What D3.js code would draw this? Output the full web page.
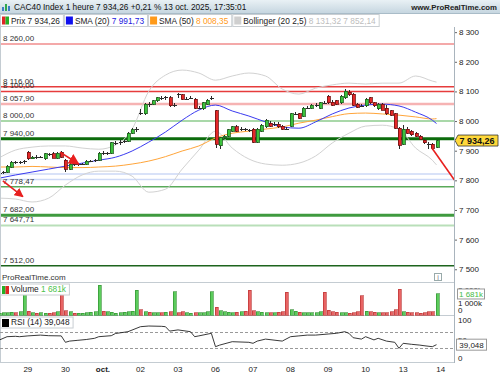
<!DOCTYPE html>
<html>
<head>
<meta charset="utf-8" />
<title>CAC40 1 heure</title>
<script src="https://cdn.jsdelivr.net/npm/d3@7"></script>
<style>
  body { margin: 0; background: #fff; }
  svg { display: block; font-family: "Liberation Sans", Arial, sans-serif; }
</style>
</head>
<body>
<svg id="chart" width="500" height="375"></svg>
<script>
// ---- data ----
const dayLabels = ['29', '30', 'oct.', '02', '03', '06', '07', '08', '09', '10', '13', '14'];
const dayStart = [7, 16, 25, 34, 43, 52, 61, 70, 79, 88, 97, 106];

const opens = [7821,7824,7828,7845,7861,7858,7861,7895,7872,7878,7875,7872,7889,7889,7875,7895,
  7868,7838,7855,7851,7855,7855,7865,7866,7868,7892,7889,7892,7926,7927,7929,7932,7959,7970,
  8027,8024,8057,8057,8068,8078,8077,8078,8054,8091,8088,8074,8076,8074,8044,8041,8057,8074,
  8034,7916,7943,7949,7966,7980,7970,7972,7969,7973,7929,7966,7980,7993,7986,7990,7983,7974,
  7983,8024,8024,8017,8044,8044,8051,8044,8062,8084,8064,8068,8061,8078,8098,8091,8057,8051,
  8051,8078,8061,8041,8057,8044,8034,8024,7976,7922,7973,7966,7959,7949,7936,7922,7922,7912];
const highs = [7828,7831,7851,7865,7865,7865,7868,7899,7882,7885,7882,7892,7892,7895,7895,7899,
  7872,7858,7858,7858,7858,7868,7868,7872,7895,7899,7895,7929,7932,7936,7936,7963,7976,7980,
  8041,8061,8064,8071,8081,8084,8084,8084,8061,8094,8091,8081,8084,8078,8051,8064,8074,8084,
  8037,7946,7953,7973,7983,7986,7980,7976,7973,7976,7976,7990,8007,8000,7997,7997,7986,7980,
  8027,8030,8027,8047,8051,8057,8061,8064,8068,8088,8071,8071,8088,8108,8104,8094,8061,8057,
  8078,8081,8064,8061,8061,8054,8037,8027,7980,7986,7980,7970,7963,7953,7939,7929,7926,7936];
const lows = [7818,7821,7824,7841,7855,7855,7855,7868,7872,7872,7875,7868,7882,7875,7872,7875,
  7828,7834,7848,7848,7851,7851,7861,7861,7865,7885,7885,7889,7919,7919,7926,7929,7956,7963,
  8020,8020,8047,8054,8064,8071,8071,8047,8047,8078,8071,8071,8074,8041,8041,8037,8054,8071,
  7909,7905,7939,7946,7963,7963,7966,7966,7963,7926,7926,7963,7976,7980,7983,7976,7970,7970,
  7980,8020,8007,8014,8041,8041,8047,8041,8057,8057,8051,8054,8057,8074,8084,8051,8044,8047,
  8047,8057,8047,8037,8037,8020,8017,7973,7905,7919,7956,7949,7946,7936,7922,7905,7902,7909];
const closes = [7824,7828,7848,7861,7858,7861,7865,7872,7878,7875,7878,7889,7885,7875,7892,7878,
  7838,7855,7851,7855,7856,7865,7866,7868,7892,7889,7892,7926,7927,7929,7932,7959,7970,7973,
  8026,8057,8054,8068,8078,8077,8080,8051,8055,8090,8074,8076,8078,8044,8045,8061,8071,8077,
  7922,7943,7949,7970,7980,7966,7972,7969,7967,7929,7973,7986,8003,7983,7990,7980,7973,7972,
  8024,8025,8010,8044,8045,8054,8055,8061,8060,8061,8054,8057,8084,8101,8088,8054,8047,8050,
  8074,8061,8051,8057,8037,8024,8020,7976,7918,7973,7959,7953,7949,7939,7926,7919,7909,7934.26];
// volume in thousands
const volumes = [150,180,200,220,190,260,1740,
  300,180,150,170,160,140,180,250,1740,
  330,250,150,150,160,200,240,280,2400,
  320,250,220,150,170,220,250,300,2000,
  420,260,220,180,170,200,230,280,1870,
  200,250,180,150,200,170,190,260,1870,
  620,350,260,230,200,240,260,320,2000,
  330,250,220,190,170,180,220,280,1810,
  420,300,220,200,170,170,200,250,1810,
  400,280,220,180,170,160,200,280,1550,
  320,260,230,190,170,180,250,420,2080,
  280,220,180,170,160,190,260,280,1681];

// indicators, sampled every 4 bars
const indIdx = [0,4,8,12,16,20,24,28,32,36,40,44,48,52,56,60,64,68,72,76,80,84,88,92,96,100,104,105];
const sma20 = [7807,7818,7828,7838,7848,7858,7868,7878,7899,7929,7963,8003,8037,8054,8034,8017,
  7997,7980,7976,7997,8024,8044,8054,8057,8051,8030,8003,7991.73];
const sma50 = [7845,7845,7847,7845,7843,7843,7845,7848,7855,7865,7880,7899,7916,7943,7959,7966,
  7973,7980,7993,8003,8015,8025,8027,8024,8020,8014,8007,8008.35];
const bollUp = [7875,7902,7912,7916,7916,7909,7905,7919,7973,8101,8155,8172,8162,8138,8152,8162,
  8152,8108,8091,8111,8122,8128,8125,8128,8128,8152,8135,8131.32];
const bollLo = [7740,7737,7727,7740,7784,7818,7831,7831,7814,7760,7770,7838,7902,7966,7909,7872,
  7855,7851,7858,7882,7926,7959,7983,7986,7973,7909,7868,7852.14];

const rsiIdx = [0,2,4,5,7,10,12,15,16,17,19,21,23,24,27,28,31,34,36,39,40,41,43,46,47,48,51,52,53,
  56,60,61,62,64,68,70,72,74,76,79,81,83,84,85,87,88,90,91,93,95,96,97,99,101,102,104,105];
const rsiVal = [50,59,60,59,61,63,61.5,61,45,48,50,52,55,59,61.5,67,71.5,84,85.7,85,84,73,76,71.5,
  59,61,67.5,34,38,46.5,45,42.5,48,53,48,59,61,63,63,65.7,67.5,71.5,67.5,56.5,53,59,51,55,48,45,
  30,42.5,40,38,36.5,34,39.048];

const levelVals = [8260, 8116, 8100, 8057.9, 8000, 7940, 7821, 7803, 7778.47, 7682, 7647.71, 7512];
const levelShowLabel = [true, true, true, true, true, true, false, false, true, true, true, true];
const levelColors = ['#f4a9a9','#e63c3c','#e63c3c','#f6b3b3','#a9d8a9','#0b6b0b','#cdd9f6','#cdd9f6',
  '#5aaa5a','#3f9a3f','#b9dfb9','#1d641d'];
const levelWidths = [2, 1.5, 1.5, 2.5, 2, 3, 1.5, 1.5, 1.5, 3, 2, 1.5];

const priceTicks = [7500, 7600, 7700, 7800, 7900, 8000, 8100, 8200, 8300];
const lastPrice = 7934.26, change = 0.21, lastVol = 1681, lastRsi = 39.048;

// red hand-drawn arrows, in (bar index, price)
const arrows = [
  {i0: 14.7, v0: 7895, i1: 19.2, v1: 7855, head: 8},
  {i0: 1.0, v0: 7798, i1: 5.8, v1: 7745, head: 6},
  {i0: 103.9, v0: 7909, i1: 109.3, v1: 7801, head: 0}
];

// ---- chart ----
const svg = d3.select('#chart');
const fr = d3.formatLocale({decimal: ',', thousands: ' ', grouping: [3], currency: ['', '']});
const f0 = fr.format(',.0f'), f2 = fr.format(',.2f'), f3 = fr.format('.3f');

const axisX = 454;
const x = d3.scaleLinear().domain([0, 105]).range([-1.3, 436.5]);
const yP = d3.scaleLinear().domain([7512, 8260]).range([265.7, 44]);
const yV = d3.scaleLinear().domain([0, 1000]).range([315, 302.5]);
const yR = d3.scaleLinear().domain([0, 100]).range([360.3, 320.3]);

const defs = svg.append('defs');
const grad = defs.append('linearGradient').attr('id', 'tb').attr('x1', 0).attr('y1', 0).attr('x2', 0).attr('y2', 1);
grad.append('stop').attr('offset', 0).attr('stop-color', '#e9f1f5');
grad.append('stop').attr('offset', 1).attr('stop-color', '#c6d6e0');
defs.append('clipPath').attr('id', 'main').append('rect').attr('x', 0).attr('y', 28).attr('width', axisX).attr('height', 254);
defs.append('clipPath').attr('id', 'lower').append('rect').attr('x', 0).attr('y', 283).attr('width', axisX).attr('height', 80);
[8, 6].forEach(s => {
  defs.append('marker').attr('id', 'ah' + s).attr('viewBox', '0 0 10 10').attr('refX', 9).attr('refY', 5)
    .attr('markerUnits', 'userSpaceOnUse').attr('markerWidth', s + 3).attr('markerHeight', s + 3).attr('orient', 'auto')
    .append('path').attr('d', 'M0,0 L10,5 L0,10 z').attr('fill', '#e8201f');
});

// title bar
svg.append('rect').attr('width', 500).attr('height', 13).attr('fill', 'url(#tb)');
svg.append('line').attr('x1', 0).attr('x2', 500).attr('y1', 13.5).attr('y2', 13.5).attr('stroke', '#a9bcc8');
[[2, 6, 4, '#3d7fc4'], [5, 3, 7, '#2fa84f'], [8, 5, 5, '#3d7fc4']].forEach(b => {
  svg.append('rect').attr('x', b[0]).attr('y', b[1] + 1).attr('width', 2).attr('height', b[2]).attr('fill', b[3]);
});
svg.append('text').attr('x', 14).attr('y', 10).attr('font-size', 8.3).attr('fill', '#111')
  .text('CAC40 Index 1 heure ' + f2(lastPrice) + ' +' + fr.format('.2f')(change) + ' % 13 oct. 2025, 17:35:01');
svg.append('text').attr('x', 497).attr('y', 10).attr('font-size', 7.8).attr('font-weight', 'bold')
  .attr('text-anchor', 'end').attr('fill', '#222').text('www.ProRealTime.com');

// legend boxes
function legendBox(g, x0, y0, h, icon, parts) {
  const box = g.append('g');
  const rect = box.append('rect').attr('x', x0 + 0.5).attr('y', y0 + 0.5).attr('height', h).attr('fill', '#fff').attr('stroke', '#c9ced2');
  icon(box, x0 + 2, y0 + 2.5);
  const t = box.append('text').attr('x', x0 + 11).attr('y', y0 + h - 2.5).attr('font-size', 8.3);
  parts.forEach(p => t.append('tspan').attr('fill', p[1]).text(p[0]));
  const w = t.node().getComputedTextLength() + 14;
  rect.attr('width', w);
  return x0 + w + 1;
}
const sq = c => (b, x0, y0) => b.append('rect').attr('x', x0).attr('y', y0).attr('width', 7).attr('height', 8).attr('fill', c);
const split = (c1, c2) => (b, x0, y0) => {
  b.append('rect').attr('x', x0).attr('y', y0).attr('width', 3.5).attr('height', 8).attr('fill', c1);
  b.append('rect').attr('x', x0 + 3.5).attr('y', y0).attr('width', 3.5).attr('height', 8).attr('fill', c2);
};
let lx = 0;
lx = legendBox(svg, lx, 14, 12, split('#e02626', '#26b026'), [['Prix ' + f2(lastPrice), '#222']]);
lx = legendBox(svg, lx, 14, 12, sq('#1010ee'), [['SMA (20) ', '#222'], [f2(sma20[sma20.length - 1]), '#2020e0']]);
lx = legendBox(svg, lx, 14, 12, sq('#ff9a1a'), [['SMA (50) ', '#222'], [f2(sma50[sma50.length - 1]), '#ff9a1a']]);
lx = legendBox(svg, lx, 14, 12, sq('#cfcfcf'), [['Bollinger (20 2,5) ', '#222'],
  [f2(bollUp[bollUp.length - 1]) + ' ' + f2(bollLo[bollLo.length - 1]), '#bdbdbd']]);

// main panel
const main = svg.append('g').attr('clip-path', 'url(#main)');
svg.append('line').attr('x1', 0.5).attr('x2', 0.5).attr('y1', 27).attr('y2', 363).attr('stroke', '#c4ccd2');

levelVals.forEach((v, k) => {
  main.append('line').attr('x1', 0).attr('x2', axisX).attr('y1', yP(v)).attr('y2', yP(v))
    .attr('stroke', levelColors[k]).attr('stroke-width', levelWidths[k]);
});
levelVals.forEach((v, k) => {
  if (!levelShowLabel[k]) return;
  main.append('text').attr('x', 3).attr('y', yP(v) - 3).attr('font-size', 8).attr('fill', '#333').text(f2(v));
});

const ind = (arr, sc) => d3.line().x((d, k) => x(indIdx[k])).y(d => sc(d)).curve(d3.curveMonotoneX)(arr);
main.append('path').attr('d', ind(bollUp, yP)).attr('fill', 'none').attr('stroke', '#d2d2d2');
main.append('path').attr('d', ind(bollLo, yP)).attr('fill', 'none').attr('stroke', '#d2d2d2');
main.append('path').attr('d', ind(sma50, yP)).attr('fill', 'none').attr('stroke', '#ffa53a');
main.append('path').attr('d', ind(sma20, yP)).attr('fill', 'none').attr('stroke', '#3b3bf0');

// candles
const idx = d3.range(opens.length);
const cg = main.append('g').attr('shape-rendering', 'crispEdges');
idx.forEach(i => {
  const cx = Math.round(x(i)) + 0.5;
  const up = closes[i] >= opens[i];
  cg.append('line').attr('x1', cx).attr('x2', cx).attr('y1', yP(highs[i])).attr('y2', yP(lows[i])).attr('stroke', '#2a2a2a');
  const top = yP(Math.max(opens[i], closes[i])), bot = yP(Math.min(opens[i], closes[i]));
  if (bot - top < 1.5) {
    cg.append('line').attr('x1', cx - 2).attr('x2', cx + 2).attr('y1', Math.round(top) + 0.5).attr('y2', Math.round(top) + 0.5)
      .attr('stroke', '#2a2a2a');
  } else {
    cg.append('rect').attr('x', cx - 1.5).attr('y', top).attr('width', 3).attr('height', bot - top)
      .attr('fill', up ? '#3cc23c' : '#e42828').attr('stroke', up ? '#1d5e1d' : '#6e1010').attr('stroke-width', 0.8);
  }
});

// red arrows
arrows.forEach(a => {
  const l = main.append('line').attr('x1', x(a.i0)).attr('y1', yP(a.v0)).attr('x2', x(a.i1)).attr('y2', yP(a.v1))
    .attr('stroke', '#e8201f').attr('stroke-width', 1.6);
  if (a.head) l.attr('marker-end', 'url(#ah' + a.head + ')');
});

svg.append('text').attr('x', 2).attr('y', 280).attr('font-size', 8).attr('fill', '#333').text('ProRealTime.com');
svg.append('rect').attr('x', 434.5).attr('y', 273.5).attr('width', 7).attr('height', 7).attr('fill', '#fff').attr('stroke', '#9aa');
svg.append('text').attr('x', 438).attr('y', 280).attr('font-size', 7).attr('text-anchor', 'middle').attr('fill', '#778').text('i');

// price axis
const pAxis = svg.append('g').attr('transform', `translate(${axisX},0)`)
  .call(d3.axisRight(yP).tickValues(priceTicks).tickSize(3).tickPadding(2).tickFormat(f0));
pAxis.select('.domain').remove();
pAxis.selectAll('line').attr('stroke', '#666');
pAxis.selectAll('text').attr('font-size', 8).attr('fill', '#222').attr('font-family', null);

// last price tag
const ly = yP(lastPrice);
svg.append('path').attr('d', `M${axisX + 1},${ly} L${axisX + 4},${ly - 5.5} H498 V${ly + 5.5} H${axisX + 4} Z`)
  .attr('fill', '#ffd83a').attr('stroke', '#333').attr('stroke-width', 0.8);
svg.append('text').attr('x', 477).attr('y', ly + 3.3).attr('font-size', 9).attr('font-weight', 'bold')
  .attr('text-anchor', 'middle').attr('fill', '#111').text(f2(lastPrice));

// separators
[282.5, 315.5, 362.5].forEach(yy => svg.append('line').attr('x1', 0).attr('x2', axisX).attr('y1', yy).attr('y2', yy).attr('stroke', '#c4ccd2'));
svg.append('line').attr('x1', axisX + 0.5).attr('x2', axisX + 0.5).attr('y1', 27).attr('y2', 363).attr('stroke', '#a9b4bd');

// volume
const lower = svg.append('g').attr('clip-path', 'url(#lower)').attr('shape-rendering', 'crispEdges');
idx.forEach(i => {
  const up = closes[i] >= opens[i];
  lower.append('rect').attr('x', Math.round(x(i)) - 1).attr('y', yV(volumes[i])).attr('width', 3)
    .attr('height', yV(0) - yV(volumes[i]))
    .attr('fill', up ? '#5ccc5c' : '#e86464').attr('stroke', up ? '#2a8a2a' : '#b52a2a').attr('stroke-width', 0.6);
});
legendBox(svg, 0, 283.5, 11, split('#26b026', '#e02626'), [['Volume ', '#222'], [f0(lastVol) + 'k', '#4cc24c']]);
const vAxis = svg.append('g').attr('transform', `translate(${axisX},0)`)
  .call(d3.axisRight(yV).tickValues([1000, 2000]).tickSize(0).tickPadding(4).tickFormat(d => f0(d) + 'k'));
vAxis.select('.domain').remove();
vAxis.selectAll('text').attr('font-size', 8).attr('fill', '#222').attr('font-family', null);
svg.append('text').attr('x', 458).attr('y', yV(0) - 2.5).attr('font-size', 8).attr('fill', '#222').text('0');
svg.append('rect').attr('x', 457.5).attr('y', yV(lastVol) - 5).attr('width', 27).attr('height', 10)
  .attr('fill', '#fff').attr('stroke', '#999');
svg.append('text').attr('x', 471).attr('y', yV(lastVol) + 3).attr('font-size', 8).attr('text-anchor', 'middle')
  .attr('fill', '#44bb44').text(f0(lastVol) + 'k');

// RSI
[70, 30].forEach(v => lower.append('line').attr('x1', 0).attr('x2', axisX).attr('y1', Math.round(yR(v)) + 0.5).attr('y2', Math.round(yR(v)) + 0.5)
  .attr('stroke', '#999').attr('stroke-dasharray', '3,2'));
svg.append('g').attr('clip-path', 'url(#lower)').append('path')
  .attr('d', d3.line().x((d, k) => x(rsiIdx[k])).y(d => yR(d))(rsiVal))
  .attr('fill', 'none').attr('stroke', '#222').attr('stroke-width', 0.9);
legendBox(svg, 0, 316.5, 11, sq('#000'), [['RSI (14) ' + f3(lastRsi), '#222']]);
const rAxis = svg.append('g').attr('transform', `translate(${axisX},0)`)
  .call(d3.axisRight(yR).tickValues([100, 50]).tickSize(0).tickPadding(4));
rAxis.select('.domain').remove();
rAxis.selectAll('text').attr('font-size', 8).attr('fill', '#222').attr('font-family', null);
svg.append('text').attr('x', 458).attr('y', yR(0) + 0.5).attr('font-size', 8).attr('fill', '#222').text('0');
svg.append('rect').attr('x', 456.5).attr('y', yR(lastRsi) - 5.5).attr('width', 30).attr('height', 11)
  .attr('fill', '#fff').attr('stroke', '#999');
svg.append('text').attr('x', 471.5).attr('y', yR(lastRsi) + 3).attr('font-size', 8).attr('text-anchor', 'middle')
  .attr('fill', '#222').text(f3(lastRsi));

// day labels
dayLabels.forEach((d, k) => {
  svg.append('text').attr('x', x(dayStart[k])).attr('y', 372).attr('font-size', 8).attr('text-anchor', 'middle')
    .attr('fill', '#222').attr('font-weight', d === 'oct.' ? 'bold' : null).text(d);
});
</script>
</body>
</html>
